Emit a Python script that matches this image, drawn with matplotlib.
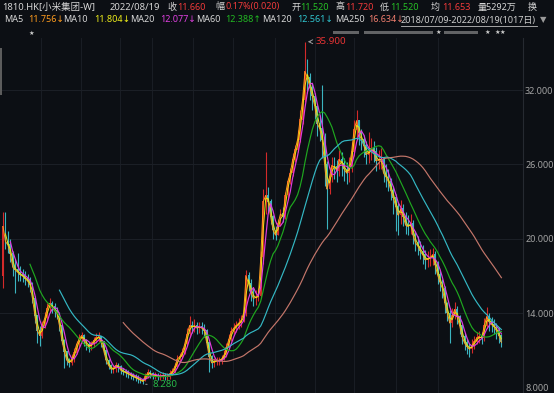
import numpy as np
import pandas as pd
import matplotlib
matplotlib.use("Agg")
import matplotlib.pyplot as plt
from matplotlib.patches import Rectangle

plt.rcParams['font.family'] = ['Noto Sans', 'DejaVu Sans', 'Noto Sans CJK SC']

# weekly bars (5 trading days each), 2018/07/09 - 2022/08/19
first_open = 17.0
closes = [21.0, 19.8, 19.5, 18.8, 17.7, 17.5, 17.3, 17.1, 17.0, 16.8,
          16.6, 16.3, 15.2, 13.8, 12.6, 12.2, 13.0, 13.6, 14.4, 14.8,
          14.5, 14.2, 14.0, 13.0, 11.8, 10.9, 10.2, 10.0, 10.3, 10.8,
          11.5, 11.9, 12.2, 11.8, 11.5, 11.3, 11.5, 11.8, 12.0, 12.1,
          11.7, 11.0, 10.2, 9.8, 9.5, 9.5, 9.8, 9.7, 9.4, 9.3,
          9.2, 9.1, 9.0, 8.9, 8.8, 8.7, 8.6, 8.5, 8.9, 9.2,
          9.1, 9.0, 9.0, 8.9, 8.9, 9.0, 8.9, 8.9, 9.1, 9.3,
          9.7, 10.3, 10.5, 10.8, 11.5, 12.3, 13.0, 12.9, 13.0, 12.8,
          12.9, 12.8, 12.6, 11.6, 10.5, 10.0, 10.1, 10.2, 10.2, 10.3,
          10.6, 11.2, 11.9, 12.5, 12.8, 13.0, 13.2, 13.4, 14.0, 17.0,
          16.4, 15.7, 15.2, 15.3, 15.4, 18.5, 23.0, 23.5, 23.0, 21.8,
          20.7, 20.3, 21.2, 22.0, 21.8, 23.5, 24.6, 25.3, 26.4, 27.2,
          28.0, 29.6, 31.2, 33.5, 33.0, 32.2, 31.5, 30.7, 29.3, 28.9,
          28.0, 26.0, 24.0, 25.0, 25.9, 25.8, 25.5, 26.4, 26.1, 25.6,
          25.3, 25.8, 27.0, 28.8, 29.5, 28.5, 28.0, 27.5, 26.8, 27.0,
          27.3, 27.0, 26.3, 26.4, 26.4, 25.3, 25.0, 24.6, 23.9, 23.3,
          22.6, 21.9, 22.4, 21.8, 21.1, 21.0, 21.2, 20.3, 19.7, 19.4,
          19.0, 18.7, 18.3, 18.4, 18.5, 18.7, 17.9, 17.1, 16.5, 16.0,
          14.8, 14.0, 13.2, 13.8, 14.3, 13.7, 13.0, 12.1, 11.6, 11.3,
          11.1, 11.4, 11.7, 12.0, 12.1, 12.0, 13.0, 13.7, 13.3, 13.1,
          12.9, 12.6, 12.2, 11.66]
highs = [22.2, 22.2, 20.6, 20.0, 19.0, 18.4, 18.9, 17.8, 17.6, 17.4,
         17.2, 16.9, 16.5, 15.4, 13.9, 13.0, 13.4, 14.1, 14.8, 15.2,
         15.0, 14.8, 14.5, 14.1, 13.0, 11.9, 10.9, 10.4, 10.7, 11.2,
         11.8, 12.3, 12.5, 12.3, 11.9, 11.7, 11.8, 12.1, 12.4, 12.5,
         12.2, 11.8, 11.1, 10.3, 9.9, 9.8, 10.1, 10.0, 9.8, 9.6,
         9.5, 9.4, 9.3, 9.2, 9.1, 9.0, 8.9, 8.8, 9.2, 9.5,
         9.4, 9.3, 9.3, 9.2, 9.2, 9.3, 9.2, 9.2, 9.4, 9.6,
         10.0, 10.6, 10.8, 11.2, 11.9, 12.8, 13.8, 13.4, 13.5, 13.3,
         13.3, 13.3, 13.1, 12.7, 11.7, 10.6, 10.4, 10.5, 10.5, 10.6,
         11.0, 11.6, 12.3, 12.9, 13.2, 13.4, 13.6, 13.9, 14.5, 17.5,
         17.3, 16.8, 16.0, 15.9, 16.0, 19.0, 24.0, 27.0, 24.2, 23.2,
         21.9, 21.0, 21.6, 22.4, 22.6, 23.8, 24.9, 25.7, 26.9, 27.6,
         28.8, 30.4, 32.0, 35.9, 34.5, 33.4, 32.6, 31.8, 30.8, 30.0,
         32.4, 28.5, 26.3, 25.8, 26.6, 26.6, 26.4, 27.2, 27.0, 26.5,
         26.2, 26.6, 27.8, 29.6, 30.4, 29.6, 28.9, 28.4, 27.9, 28.6,
         28.1, 27.9, 27.4, 27.2, 27.3, 26.6, 26.0, 25.6, 24.9, 24.3,
         23.6, 22.9, 23.1, 22.8, 22.2, 21.9, 22.0, 21.5, 20.6, 20.2,
         19.8, 19.5, 19.1, 19.0, 19.2, 19.3, 19.0, 18.2, 17.4, 16.8,
         16.2, 14.9, 14.3, 14.4, 14.9, 14.6, 13.9, 13.1, 12.4, 11.9,
         11.6, 11.9, 12.2, 12.5, 12.6, 12.5, 13.6, 14.5, 14.0, 13.7,
         13.5, 13.2, 12.9, 12.3]
lows = [16.0, 19.2, 18.9, 18.1, 17.0, 15.6, 16.6, 16.6, 16.5, 16.3,
        16.1, 15.7, 14.8, 13.2, 11.6, 11.4, 12.0, 12.8, 13.4, 14.1,
        14.0, 13.7, 13.5, 12.6, 11.5, 9.6, 9.8, 9.7, 9.8, 10.1,
        10.7, 11.3, 11.6, 11.4, 11.0, 10.9, 11.0, 11.3, 11.6, 11.7,
        11.3, 10.7, 9.9, 9.5, 9.2, 9.2, 9.3, 9.3, 9.1, 9.0,
        8.9, 8.8, 8.7, 8.6, 8.5, 8.4, 8.35, 8.28, 8.5, 8.8,
        8.8, 8.7, 8.7, 8.6, 8.6, 8.7, 8.6, 8.6, 8.7, 9.0,
        9.2, 9.6, 10.1, 10.4, 10.7, 11.4, 12.1, 12.4, 12.5, 12.3,
        12.4, 12.3, 12.1, 11.3, 9.3, 9.6, 9.7, 9.8, 9.8, 9.9,
        10.2, 10.5, 11.1, 11.8, 12.3, 12.5, 12.7, 12.9, 13.3, 13.8,
        15.8, 15.0, 14.6, 14.7, 15.0, 15.2, 18.0, 22.0, 22.2, 21.2,
        20.0, 19.9, 20.3, 21.0, 21.4, 21.6, 23.3, 24.4, 25.1, 26.2,
        27.0, 27.8, 29.3, 31.0, 31.8, 31.2, 30.4, 29.7, 28.3, 27.9,
        26.5, 24.3, 20.8, 23.6, 24.6, 24.8, 24.6, 25.1, 25.1, 24.7,
        24.4, 24.6, 25.4, 26.7, 28.2, 27.6, 27.2, 26.6, 26.0, 26.1,
        26.4, 26.2, 25.5, 25.6, 25.6, 24.6, 24.2, 23.9, 23.1, 22.0,
        20.6, 20.3, 21.2, 21.0, 20.4, 20.3, 20.4, 19.6, 19.0, 18.7,
        18.4, 18.0, 17.6, 17.7, 17.8, 17.9, 17.2, 16.4, 15.8, 15.2,
        14.0, 13.4, 11.6, 12.9, 13.5, 13.1, 12.3, 11.5, 11.0, 10.7,
        10.5, 10.8, 11.1, 11.5, 11.6, 11.5, 11.8, 12.9, 12.6, 12.5,
        12.3, 11.9, 11.6, 11.3]

ma_names = ["MA5", "MA10", "MA20", "MA60", "MA120", "MA250"]
ma_weeks = [1, 2, 4, 12, 24, 50]          # daily windows / 5
ma_last = ["11.756↓", "11.804↓", "12.077↓", "12.388↑", "12.561↓", "16.634↓"]
ma_colors = ["#ff9c1e", "#e8e810", "#e03ce0", "#1fa81f", "#34b8c4", "#c4766a"]
ma_widths = [0.7, 0.7, 0.85, 0.85, 0.85, 0.85]
ma_text_colors = ["#ff9c1e", "#eded1a", "#e040e0", "#22b822", "#30c6d0", "#f07e6e"]
yticks = [8, 14, 20, 26, 32]

W, H = 554, 393
bg = "#0c0f14"
fig = plt.figure(figsize=(W / 100, H / 100), dpi=100, facecolor=bg)
ax = fig.add_axes([0, 0, 523 / W, (H - 38) / H], facecolor=bg)

c = np.array(closes)
o = np.concatenate([[first_open], c[:-1]])
h = np.maximum(np.array(highs), np.maximum(o, c))
l = np.minimum(np.array(lows), np.minimum(o, c))
x = np.arange(len(c))

for vx in [15.5, 31.8, 47.7, 60.7, 77.4, 93.7, 110.8, 127.1, 143, 160, 177.2]:
    ax.axvline(vx, color="#191d24", lw=0.8, zorder=0)
for yt in yticks[1:]:
    ax.axhline(yt, color="#1b1f26", lw=0.8, zorder=0)

up = c >= o
cols = np.where(up, "#d42a2a", "#3bb4c0")
ax.vlines(x, l, h, colors=cols, lw=0.8, zorder=2)
ax.bar(x, np.abs(c - o) + 0.05, bottom=np.minimum(o, c), width=0.75,
       color=cols, linewidth=0, zorder=3)

s = pd.Series(c)
for w, col, lw in zip(ma_weeks, ma_colors, ma_widths):
    ax.plot(x, s.rolling(w).mean(), color=col, lw=lw, zorder=4)

ax.set_xlim(-1.22, 211.8)
ax.set_ylim(7.57, 36.2)
ax.set_xticks([])
ax.yaxis.tick_right()
ax.set_yticks(yticks)
ax.set_yticklabels([f"{v:.3f}" for v in yticks], color="#a3a3a3", fontsize=6.5)
ax.tick_params(axis="y", length=0, pad=1.5)
for sp in ["top", "left", "bottom"]:
    ax.spines[sp].set_visible(False)
ax.spines["right"].set_color("#262a31")
ax.spines["right"].set_linewidth(0.8)

# extreme labels
imax = int(np.argmax(h))
imin = int(np.argmin(l))
ax.annotate(f"{h[imax]:.3f}", xy=(imax, h[imax]), xytext=(8, 0),
            textcoords="offset points", color="#e83434", fontsize=7,
            va="center", arrowprops=dict(arrowstyle="->", color="#9a9a9a", lw=0.7))
ax.annotate(f"{l[imin]:.3f}", xy=(imin, l[imin]), xytext=(7, -0.5),
            textcoords="offset points", color="#28b848", fontsize=7,
            va="center", arrowprops=dict(arrowstyle="-", color="#9a9a9a", lw=0.7))


def ftext(px, py, s, color, size=6.5, **kw):
    fig.text(px / W, 1 - py / H, s, color=color, fontsize=size, va="center", ha="left", **kw)


white = "#d6d6d6"
red = "#f03a3a"
green = "#26c026"
# header row 1
ftext(2, 7, "1810.HK[小米集团-W]", white, size=6.8)
ftext(110, 7, "2022/08/19", white, size=6.8)
ftext(167, 7, "收", white)
ftext(177, 7, "11.660", red)
ftext(215, 7, "幅", white)
ftext(225, 7, "0.17%(0.020)", red)
ftext(291, 7, "开", white)
ftext(300, 7, "11.520", green)
ftext(336, 7, "高", white)
ftext(345, 7, "11.720", red)
ftext(380, 7, "低", white)
ftext(390, 7, "11.520", green)
ftext(431, 7, "均", white)
ftext(442, 7, "11.653", red)
ftext(478, 7, "量5292万", white)
ftext(528, 7, "换", white)

# header row 2 : moving averages
name_x = [4, 63, 130, 196, 262, 335]
val_x = [28, 94, 160, 225, 297, 368]
for nx, vx, nm, val, tc in zip(name_x, val_x, ma_names, ma_last, ma_text_colors):
    ftext(nx, 20, nm, white)
    ftext(vx, 20, val, tc)
ftext(401, 20, "2018/07/09-2022/08/19(1017日)", "#cfcfcf")
fig.add_artist(plt.Line2D([401 / W, 537 / W], [1 - 26 / H, 1 - 26 / H],
                          color="#bdbdbd", lw=0.6))
ftext(540, 20, "▼", "#9a9a9a", size=6)

# header row 3 (blurred info line)
ftext(29, 33, "★", "#cfcfcf", size=4.5)
for x0, x1 in [(333, 359), (364, 433), (444, 478)]:
    fig.patches.append(Rectangle((x0 / W, 1 - 34 / H), (x1 - x0) / W, 3 / H,
                                 transform=fig.transFigure, color="#9c9c9c",
                                 alpha=0.6, lw=0))
for sx in [436, 485, 495, 500]:
    ftext(sx, 32, "★", "#cfcfcf", size=4.5)

# left edge scroller
fig.patches.append(Rectangle((0, 1 - 95 / H), 2 / W, 47 / H,
                             transform=fig.transFigure, color="#5c5c5c", lw=0))

fig.savefig("out.png", dpi=100, facecolor=bg)
